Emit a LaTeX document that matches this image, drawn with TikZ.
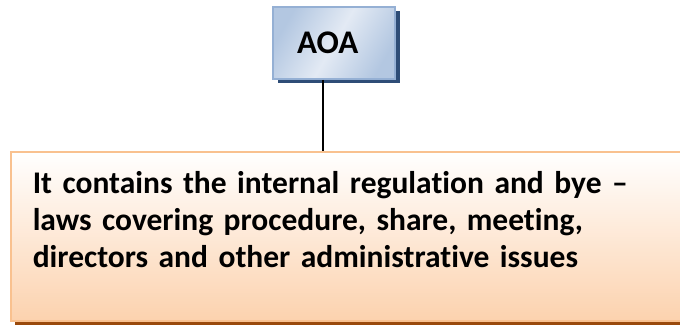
\documentclass[tikz,border=0pt]{standalone}
\usepackage{fontspec}
\setmainfont{Carlito}[Ligatures={NoCommon}]
\usepackage{tikz}
\usetikzlibrary{positioning}
\usetikzlibrary{shadows}

\definecolor{aoaEdge}{HTML}{95B0D4}
\definecolor{aoaDark}{HTML}{B3C7E1}
\definecolor{aoaLight}{HTML}{E3EAF4}
\definecolor{aoaShadow}{HTML}{2E4D77}
\definecolor{descEdge}{HTML}{F9C18F}
\definecolor{descTop}{HTML}{FFFFFF}
\definecolor{descBottom}{HTML}{FCD2AE}
\definecolor{descShadow}{HTML}{9A4A0C}

\begin{document}
\begin{tikzpicture}[x=1pt, y=-1pt,
  title/.style = {draw=aoaEdge, line width=1.5pt, left color=aoaDark, right color=aoaDark, middle color=aoaLight, shading angle=60,
    general shadow={fill=aoaShadow, shadow xshift=5pt, shadow yshift=-4pt},
    minimum width=122pt, minimum height=72pt, inner xsep=24pt, text width=74pt, align=left,
    font=\fontsize{33}{38}\selectfont\bfseries},
  info/.style = {draw=descEdge, line width=1.5pt, top color=descTop, bottom color=descBottom,
    general shadow={fill=descShadow, shadow xshift=4pt, shadow yshift=-4pt},
    anchor=north west, inner xsep=22pt, inner ysep=20pt, text width=636pt, align=left,
    font=\fontsize{31.5}{37}\selectfont\bfseries}]
  \clip (0,0) rectangle (680,324);
  \useasboundingbox (0,0) rectangle (680,324);
  \node[title](aoa) at (334,43){AOA};
  \node[info](desc) at (10,151){It contains the internal regulation and bye --\\laws covering procedure, share, meeting,\\directors and other administrative issues\rule[-33pt]{0pt}{1pt}};
  \draw[line width=1.2pt] ([xshift=-11pt]aoa.south) -- ([xshift=-11pt]aoa.south |- desc.north);
\end{tikzpicture}
\end{document}
